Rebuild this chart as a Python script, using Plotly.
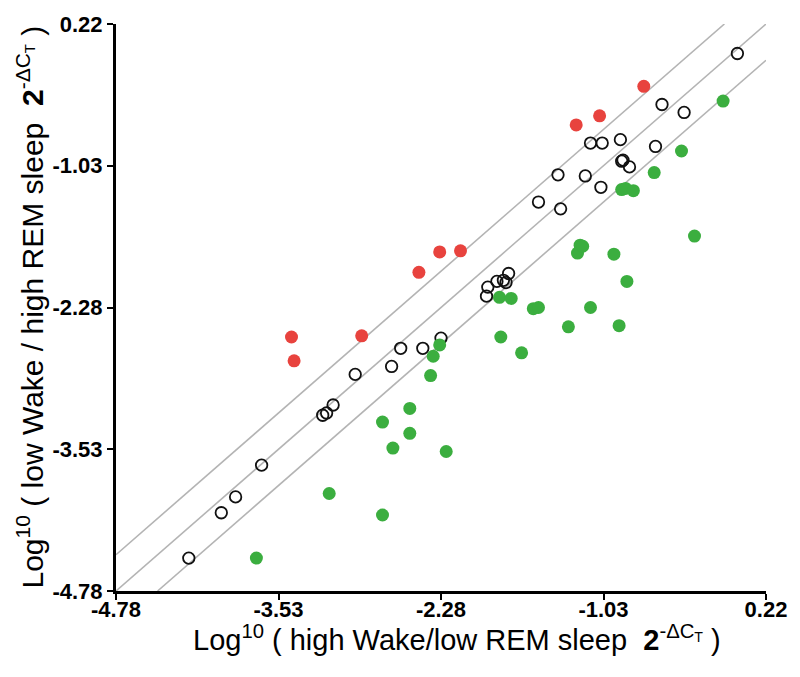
import plotly.graph_objects as go

# ---- data (log10 values) ----
open_x = [-4.22, -3.97, -3.86, -3.66, -3.19, -3.16, -3.11, -2.94, -2.66, -2.59, -2.42, -2.28,
          -1.93, -1.92, -1.85, -1.80, -1.78, -1.76, -1.53, -1.38, -1.36, -1.17, -1.13, -1.04,
          -1.05, -0.90, -0.89, -0.88, -0.83, -0.63, -0.58, -0.41, 0.00]
open_y = [-4.49, -4.09, -3.95, -3.67, -3.23, -3.21, -3.14, -2.87, -2.80, -2.64, -2.64, -2.55,
          -2.18, -2.10, -2.05, -2.04, -2.06, -1.98, -1.35, -1.11, -1.41, -1.12, -0.83, -0.83,
          -1.22, -0.80, -0.99, -0.98, -1.04, -0.86, -0.49, -0.56, -0.04]

red_x = [-3.43, -3.41, -2.89, -2.45, -2.29, -2.13, -1.24, -1.06, -0.72]
red_y = [-2.54, -2.75, -2.53, -1.97, -1.79, -1.78, -0.67, -0.59, -0.33]

green_x = [-3.70, -3.14, -2.73, -2.73, -2.65, -2.52, -2.52, -2.36, -2.34, -2.29, -2.24,
           -1.83, -1.74, -1.82, -1.66, -1.57, -1.53, -1.30, -1.23, -1.21, -1.19, -1.13,
           -0.95, -0.91, -0.85, -0.89, -0.86, -0.80, -0.64, -0.43, -0.33, -0.11]
green_y = [-4.49, -3.92, -4.11, -3.29, -3.52, -3.17, -3.39, -2.88, -2.71, -2.61, -3.55,
           -2.19, -2.20, -2.54, -2.68, -2.29, -2.28, -2.45, -1.80, -1.73, -1.74, -2.28,
           -1.81, -2.44, -2.05, -1.24, -1.23, -1.25, -1.09, -0.90, -1.65, -0.46]

tick_vals = [-4.78, -3.53, -2.28, -1.03, 0.22]
tick_text = ["-4.78", "-3.53", "-2.28", "-1.03", "0.22"]
line_offsets = [0.32, 0.0, -0.32]   # y = x + offset reference lines

x_title = "Log<sup>10</sup> ( high Wake/low REM sleep  <b>2</b><sup>-ΔC<sub>T</sub></sup> )"
y_title = "Log<sup>10</sup> ( low Wake / high REM sleep  <b>2</b><sup>-ΔC<sub>T</sub></sup> )"

lo, hi = tick_vals[0], tick_vals[-1]

fig = go.Figure()

for off in line_offsets:
    x0 = max(lo, lo - off)
    x1 = min(hi, hi - off)
    fig.add_trace(go.Scatter(x=[x0, x1], y=[x0 + off, x1 + off], mode="lines",
                             line=dict(color="#b4b4b4", width=1.6),
                             hoverinfo="skip", showlegend=False))

fig.add_trace(go.Scatter(x=open_x, y=open_y, mode="markers", showlegend=False,
                         marker=dict(size=11.5, color="rgba(255,255,255,0)",
                                     line=dict(color="#111111", width=1.8))))
fig.add_trace(go.Scatter(x=red_x, y=red_y, mode="markers", showlegend=False,
                         marker=dict(size=13, color="#e8433e", line=dict(width=0))))
fig.add_trace(go.Scatter(x=green_x, y=green_y, mode="markers", showlegend=False,
                         marker=dict(size=13, color="#3bae3f", line=dict(width=0))))

axis_common = dict(
    range=[lo, hi], tickvals=tick_vals, ticktext=tick_text,
    showline=True, linecolor="black", linewidth=3,
    ticks="outside", ticklen=6, tickwidth=2, tickcolor="black",
    showgrid=False, zeroline=False, automargin=False,
    tickfont=dict(family="Liberation Sans, Arial", size=22, color="black", weight="bold"),
)
fig.update_xaxes(**axis_common, ticklabelstandoff=-9)
fig.update_yaxes(**axis_common)

fig.add_annotation(text=x_title, xref="paper", yref="paper", x=0.5, y=0,
                   xanchor="center", yanchor="middle", xshift=16, yshift=-47,
                   showarrow=False,
                   font=dict(family="Liberation Sans, Arial", size=29, color="black"))
fig.add_annotation(text=y_title, xref="paper", yref="paper", x=0, y=0.5,
                   xanchor="center", yanchor="middle", xshift=-86, yshift=0,
                   textangle=-90, showarrow=False,
                   font=dict(family="Liberation Sans, Arial", size=30, color="black"))

fig.update_layout(
    width=800, height=677,
    margin=dict(l=108, r=42, t=16, b=94, autoexpand=False),
    plot_bgcolor="white", paper_bgcolor="white",
)

fig.write_html("out.html")
